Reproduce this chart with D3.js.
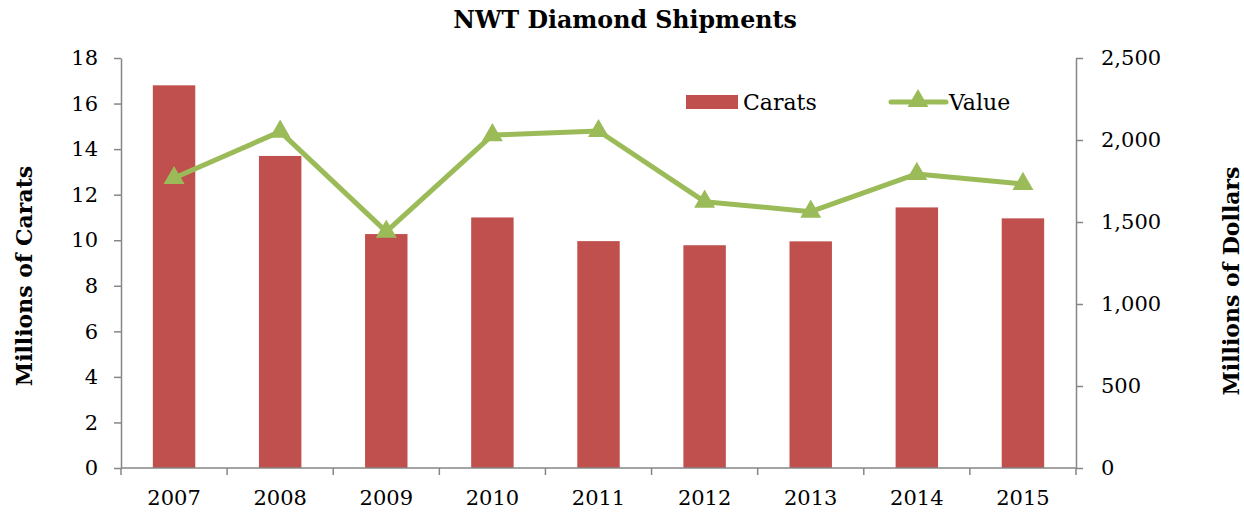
<!DOCTYPE html>
<html>
<head>
<meta charset="utf-8">
<script src="https://cdn.jsdelivr.net/npm/d3@7"></script>
<style>
    body { margin: 0; background: #fff; }
    .axis path, .axis line { stroke: #868686; stroke-width: 1.5; }
    .axis text { font-family: "DejaVu Serif", serif; font-size: 21px; fill: #000; }
</style>
</head>
<body>
<div id="chart"></div>
<script>
    // data
    var years = ["2007", "2008", "2009", "2010", "2011", "2012", "2013", "2014", "2015"];
    var carats = [16.8, 13.7, 10.27, 11.0, 9.96, 9.78, 9.95, 11.44, 10.96];
    var dollars = [1768, 2051, 1441, 2030, 2055, 1624, 1563, 1793, 1732];
    var leftTicks = [0, 2, 4, 6, 8, 10, 12, 14, 16, 18];
    var rightTicks = [0, 500, 1000, 1500, 2000, 2500];

    var margin = {top: 58, right: 168, bottom: 50, left: 121};
    var width = 1244 - margin.left - margin.right;
    var height = 468 - margin.top;
    var fontFamily = "DejaVu Serif, serif";

    var svg = d3.select("#chart").append("svg")
            .attr("width", 1244)
            .attr("height", 518);

    var g = svg.append("g")
            .attr("transform", "translate(" + margin.left + "," + margin.top + ")");

    var x = d3.scaleBand().domain(years).range([0, width]).paddingInner(0.6).paddingOuter(0.3);
    var xBand = d3.scaleBand().domain(years).range([0, width]);
    var yL = d3.scaleLinear().domain([0, 18]).range([height, 0]);
    var yR = d3.scaleLinear().domain([0, 2500]).range([height, 0]);

    // bars
    g.selectAll(".bar")
            .data(years)
            .enter().append("rect")
            .attr("class", "bar")
            .attr("x", function(d) { return x(d); })
            .attr("y", function(d, i) { return yL(carats[i]); })
            .attr("width", x.bandwidth())
            .attr("height", function(d, i) { return height - yL(carats[i]); })
            .attr("fill", "#C0504D");

    // line
    var line = d3.line()
            .x(function(d, i) { return xBand(years[i]) + xBand.bandwidth() / 2; })
            .y(function(d) { return yR(d); });

    g.append("path")
            .datum(dollars)
            .attr("fill", "none")
            .attr("stroke", "#9BBB59")
            .attr("stroke-width", 5)
            .attr("stroke-linejoin", "round")
            .attr("d", line);

    var tri = d3.symbol().type(d3.symbolTriangle).size(190);
    g.selectAll(".marker")
            .data(dollars)
            .enter().append("path")
            .attr("class", "marker")
            .attr("d", tri)
            .attr("fill", "#9BBB59")
            .attr("transform", function(d, i) {
                return "translate(" + (xBand(years[i]) + xBand.bandwidth() / 2) + "," + yR(d) + ")";
            });

    // axes
    var xAxis = g.append("g")
            .attr("class", "axis")
            .attr("transform", "translate(0," + height + ")")
            .call(d3.axisBottom(xBand).tickSize(0).tickPadding(22));
    xAxis.select(".domain").attr("d", "M0,0H" + width);
    xAxis.selectAll(".bound")
            .data(d3.range(years.length + 1))
            .enter().append("line")
            .attr("class", "bound")
            .attr("x1", function(i) { return i * xBand.step(); })
            .attr("x2", function(i) { return i * xBand.step(); })
            .attr("y1", 0).attr("y2", 7);

    g.append("g")
            .attr("class", "axis")
            .call(d3.axisLeft(yL).tickValues(leftTicks).tickSize(7).tickSizeOuter(0).tickPadding(16));

    g.append("g")
            .attr("class", "axis")
            .attr("transform", "translate(" + width + ",0)")
            .call(d3.axisRight(yR).tickValues(rightTicks).tickSize(7).tickSizeOuter(0)
                    .tickPadding(18).tickFormat(d3.format(",")));

    // title and axis labels
    svg.append("text")
            .attr("x", 625).attr("y", 28)
            .attr("text-anchor", "middle")
            .style("font-family", fontFamily)
            .style("font-weight", "bold")
            .style("font-size", "23.7px")
            .text("NWT Diamond Shipments");

    svg.append("text")
            .attr("transform", "translate(32,276) rotate(-90)")
            .attr("text-anchor", "middle")
            .style("font-family", fontFamily)
            .style("font-weight", "bold")
            .style("font-size", "22px")
            .text("Millions of Carats");

    svg.append("text")
            .attr("transform", "translate(1239,281) rotate(-90)")
            .attr("text-anchor", "middle")
            .style("font-family", fontFamily)
            .style("font-weight", "bold")
            .style("font-size", "22px")
            .text("Millions of Dollars");

    // legend
    var legend = svg.append("g").attr("class", "legend");
    legend.append("rect")
            .attr("x", 686).attr("y", 95)
            .attr("width", 52).attr("height", 14)
            .attr("fill", "#C0504D");
    legend.append("text")
            .attr("x", 743).attr("y", 110)
            .style("font-family", fontFamily)
            .style("font-size", "22px")
            .text("Carats");
    legend.append("line")
            .attr("x1", 891).attr("x2", 946).attr("y1", 102).attr("y2", 102)
            .attr("stroke", "#9BBB59").attr("stroke-width", 5).attr("stroke-linecap", "round");
    legend.append("path")
            .attr("d", tri)
            .attr("fill", "#9BBB59")
            .attr("transform", "translate(918,101)");
    legend.append("text")
            .attr("x", 949).attr("y", 110)
            .style("font-family", fontFamily)
            .style("font-size", "22px")
            .text("Value");
</script>
</body>
</html>
